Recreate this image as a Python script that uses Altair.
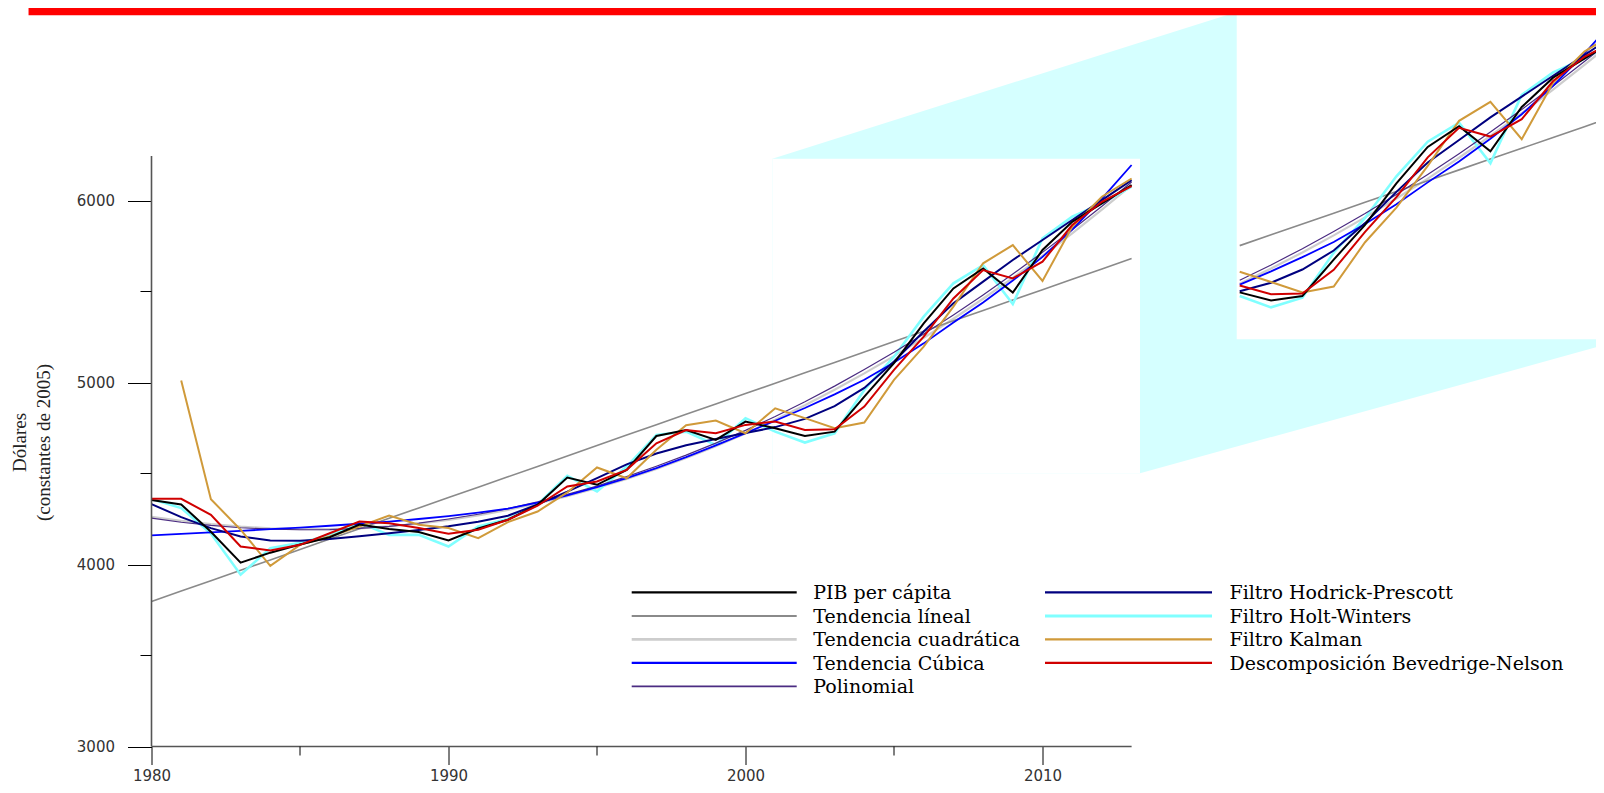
import altair as alt
import pandas as pd

# ---------------- data ----------------
years = list(range(1980, 2014))

pib = [4355, 4330, 4180, 4010, 4065, 4110, 4150, 4220, 4195, 4178,
       4132, 4198, 4246, 4328, 4478, 4438, 4520, 4706, 4739, 4685,
       4785, 4749, 4706, 4730, 4922, 5106, 5325, 5517, 5627, 5494,
       5728, 5883, 5984, 6085]
lineal = [3797, 3854, 3911, 3968, 4025, 4083, 4140, 4197, 4254, 4311,
          4368, 4425, 4482, 4539, 4596, 4654, 4711, 4768, 4825, 4882,
          4939, 4996, 5053, 5110, 5167, 5225, 5282, 5339, 5396, 5453,
          5510, 5567, 5624, 5681]
cuadratica = [4262, 4240, 4222, 4208, 4199, 4194, 4194, 4199, 4209, 4224,
              4245, 4270, 4300, 4335, 4375, 4420, 4470, 4525, 4585, 4650,
              4720, 4795, 4875, 4960, 5050, 5145, 5245, 5350, 5460, 5575,
              5695, 5820, 5950, 6085]
cubica = [4160, 4168, 4176, 4185, 4194, 4203, 4213, 4224, 4236, 4250,
          4266, 4285, 4307, 4340, 4380, 4425, 4475, 4530, 4590, 4655,
          4722, 4790, 4860, 4935, 5015, 5110, 5215, 5330, 5440, 5560,
          5690, 5840, 6010, 6195]
polinomial = [4255, 4232, 4215, 4202, 4194, 4191, 4192, 4198, 4210, 4227,
              4250, 4276, 4307, 4344, 4385, 4431, 4483, 4540, 4601, 4667,
              4737, 4813, 4894, 4980, 5071, 5166, 5266, 5371, 5481, 5596,
              5715, 5839, 5968, 6102]
hodrick = [4332, 4260, 4200, 4154, 4132, 4130, 4140, 4155, 4172, 4190,
           4210, 4235, 4268, 4330, 4400, 4475, 4550, 4610, 4655, 4690,
           4722, 4755, 4800, 4870, 4970, 5115, 5280, 5435, 5554, 5673,
           5783, 5893, 6002, 6112]
holt = [4360, 4310, 4170, 3944, 4090, 4120, 4160, 4230, 4163, 4163,
        4099, 4209, 4250, 4330, 4487, 4401, 4538, 4712, 4730, 4657,
        4804, 4730, 4670, 4721, 4959, 5142, 5362, 5545, 5645, 5431,
        5792, 5911, 5984, 6076]
kalman = [None, 5011, 4359, 4191, 3993, 4108, 4154, 4209, 4269, 4218,
          4200, 4145, 4233, 4291, 4396, 4533, 4474, 4630, 4765, 4791,
          4721, 4858, 4804, 4749, 4780, 5014, 5197, 5417, 5655, 5755,
          5558, 5856, 6021, 6121]
bevedrige = [4361, 4361, 4273, 4099, 4077, 4108, 4172, 4236, 4227, 4200,
             4169, 4191, 4246, 4323, 4429, 4456, 4520, 4666, 4739, 4721,
             4767, 4785, 4739, 4743, 4868, 5069, 5252, 5462, 5618, 5572,
             5664, 5865, 5993, 6079]

names = ["PIB per cápita", "Tendencia líneal", "Tendencia cuadrática",
         "Tendencia Cúbica", "Polinomial", "Filtro Hodrick-Prescott",
         "Filtro Holt-Winters", "Filtro Kalman",
         "Descomposición Bevedrige-Nelson"]
values = [pib, lineal, cuadratica, cubica, polinomial, hodrick, holt,
          kalman, bevedrige]
colors = ["#000000", "#8a8a8a", "#cdcdcd", "#0000ff", "#4b2c82",
          "#00007f", "#80ffff", "#d09a3a", "#d00000"]
widths = [2.0, 1.6, 2.2, 1.8, 1.2, 2.0, 2.6, 2.0, 2.0]
draw_order = [2, 1, 6, 4, 3, 5, 7, 0, 8]

x_ticks_major = [1980, 1990, 2000, 2010]
x_ticks_minor = [1985, 1995, 2005]
y_ticks_major = [3000, 4000, 5000, 6000]
y_ticks_minor = [3500, 4500, 5500]

# ---------------- geometry ----------------
PX_PER_YEAR = 29.7
PX_PER_USD = 0.182
W = 1444.5
H = 738.5
X_MIN = 1980.0
X_MAX = X_MIN + W / PX_PER_YEAR
Y_MIN = 3000.0
Y_MAX = Y_MIN + H / PX_PER_USD
AXIS_X_END = 2013.0
AXIS_Y_END = 6245.0

# zoom window (source in the main plot) and magnified copy (target)
SRC_X = (2000.905, 2013.283)
SRC_Y = (4501.0, 6230.0)
DST_X = (2016.54, 2029.6)
DST_Y = (5237.0, 7036.0)
RED_BAR_X0 = 1975.86
RED_BAR_Y0 = 7018.0

xs = alt.Scale(domain=[X_MIN, X_MAX], nice=False, zero=False)
ys = alt.Scale(domain=[Y_MIN, Y_MAX], nice=False, zero=False)

AX_X = alt.Axis(values=x_ticks_major, format="d", tickSize=18, tickColor="#000",
                tickWidth=1, domain=False, grid=False, title=None,
                labelFont="DejaVu Sans", labelFontSize=15, labelColor="#333",
                labelPadding=4, labelFlush=False, labelOverlap=False)
AX_Y = alt.Axis(values=y_ticks_major, format="d", tickSize=24, tickColor="#000",
                tickWidth=1, domain=False, grid=False,
                title=["Dólares", "(constantes de 2005)"],
                titleFont="Liberation Serif", titleFontSize=19,
                titleFontWeight="normal", titleColor="#222", titleAngle=270,
                titleAlign="center", titleBaseline="alphabetic",
                titleLineHeight=24, titleX=-126.5, titleY=434,
                labelFont="DejaVu Sans", labelFontSize=15, labelColor="#333",
                labelPadding=13, labelFlush=False, labelOverlap=False)


def X(field, **kw):
    return alt.X(field, type="quantitative", scale=xs, axis=AX_X, **kw)


def Y(field, **kw):
    return alt.Y(field, type="quantitative", scale=ys, axis=AX_Y, **kw)


layers = []


def lerp(a, b, t):
    return a + (b - a) * t


# cyan connector between zoom window and magnified copy
t_top = (SRC_X[1] - SRC_X[0]) / (DST_X[0] - SRC_X[0])
t_bot = (DST_X[0] - SRC_X[1]) / (DST_X[1] - SRC_X[1])
hull = pd.DataFrame({
    "x": [SRC_X[0], SRC_X[1], DST_X[0], DST_X[1]],
    "top": [SRC_Y[1], lerp(SRC_Y[1], DST_Y[1], t_top), DST_Y[1], DST_Y[1]],
    "bot": [SRC_Y[0], SRC_Y[0], lerp(SRC_Y[0], DST_Y[0], t_bot), DST_Y[0]],
})
layers.append(alt.Chart(hull).mark_area(color="#d5ffff", clip=True).encode(
    x=X("x"), y=Y("top"), y2="bot"))

rects = pd.DataFrame({"x": [SRC_X[0], DST_X[0]], "x2": [SRC_X[1], DST_X[1] + 1],
                      "y": [SRC_Y[0], DST_Y[0]], "y2": [SRC_Y[1], DST_Y[1]]})
layers.append(alt.Chart(rects).mark_rect(color="white", clip=True).encode(
    x=X("x"), x2="x2", y=Y("y"), y2="y2"))

# main lines and magnified copy
sx = (DST_X[1] - DST_X[0]) / (SRC_X[1] - SRC_X[0])
sy = (DST_Y[1] - DST_Y[0]) / (SRC_Y[1] - SRC_Y[0])
for i in draw_order:
    df = pd.DataFrame({"year": years, "value": values[i]}).dropna()
    layers.append(alt.Chart(df).mark_line(color=colors[i], strokeWidth=widths[i]).encode(
        x=X("year"), y=Y("value")))
for i in draw_order:
    df = pd.DataFrame({"year": years, "value": values[i]}).dropna()
    df = df[df["year"] > SRC_X[0]]
    df = df.assign(xi=DST_X[0] + (df["year"] - SRC_X[0]) * sx,
                   yi=DST_Y[0] + (df["value"] - SRC_Y[0]) * sy)
    layers.append(alt.Chart(df).mark_line(color=colors[i], strokeWidth=widths[i],
                                          clip=True).encode(
        x=X("xi"), y=Y("yi")))

# axis lines and minor ticks
axis_lines = pd.DataFrame({"x": [X_MIN, X_MIN], "x2": [X_MIN, AXIS_X_END],
                           "y": [Y_MIN, Y_MIN], "y2": [AXIS_Y_END, Y_MIN]})
layers.append(alt.Chart(axis_lines).mark_rule(color="#555", strokeWidth=1.6).encode(
    x=X("x"), x2="x2", y=Y("y"), y2="y2"))
ymin_df = pd.DataFrame({"v": y_ticks_minor, "x": X_MIN - 11 / PX_PER_YEAR, "x2": X_MIN})
layers.append(alt.Chart(ymin_df).mark_rule(color="#000", strokeWidth=1).encode(
    x=X("x"), x2="x2", y=Y("v")))
xmin_df = pd.DataFrame({"v": x_ticks_minor, "y": Y_MIN - 9 / PX_PER_USD, "y2": Y_MIN})
layers.append(alt.Chart(xmin_df).mark_rule(color="#000", strokeWidth=1).encode(
    x=X("v"), y=Y("y"), y2="y2"))

# red bar on top
bar = pd.DataFrame({"x": [RED_BAR_X0], "x2": [X_MAX], "y": [RED_BAR_Y0], "y2": [Y_MAX + 60]})
layers.append(alt.Chart(bar).mark_rect(color="#ff0000").encode(
    x=X("x"), x2="x2", y=Y("y"), y2="y2"))

# legend (two columns, drawn in pixel space)
LEG_COLS = [(480.2, 645.2, 661.8), (893.5, 1060.5, 1078.0)]
LEG_Y0 = 584.4
LEG_DY = 23.5
leg_rows = []
for k in range(len(names)):
    col = 0 if k < 5 else 1
    row = k if k < 5 else k - 5
    x0, x1, xt = LEG_COLS[col]
    leg_rows.append({"name": names[k], "c": colors[k], "w": widths[k] + 0.4,
                     "x0": x0, "x1": x1, "xt": xt, "y": LEG_Y0 + row * LEG_DY,
                     "yt": LEG_Y0 + row * LEG_DY + 6.8})
leg = pd.DataFrame(leg_rows)
layers.append(alt.Chart(leg).mark_rule().encode(
    x=alt.X("x0:Q", scale=None, axis=None), x2="x1:Q",
    y=alt.Y("y:Q", scale=None, axis=None),
    color=alt.Color("c:N", scale=None), strokeWidth=alt.StrokeWidth("w:Q", scale=None)))
layers.append(alt.Chart(leg).mark_text(align="left", baseline="alphabetic",
                                       font="DejaVu Serif", fontSize=19,
                                       color="#000").encode(
    x=alt.X("xt:Q", scale=None, axis=None), y=alt.Y("yt:Q", scale=None, axis=None),
    text="name:N"))

chart = alt.layer(*layers).properties(
    width=W, height=H,
    autosize=alt.AutoSizeParams(type="none"),
    padding={"left": 143.5, "top": 0, "right": 0, "bottom": 38.5},
    background="white",
).configure_view(stroke=None)

chart.save("out.html", embed_options={"renderer": "svg", "actions": False})
